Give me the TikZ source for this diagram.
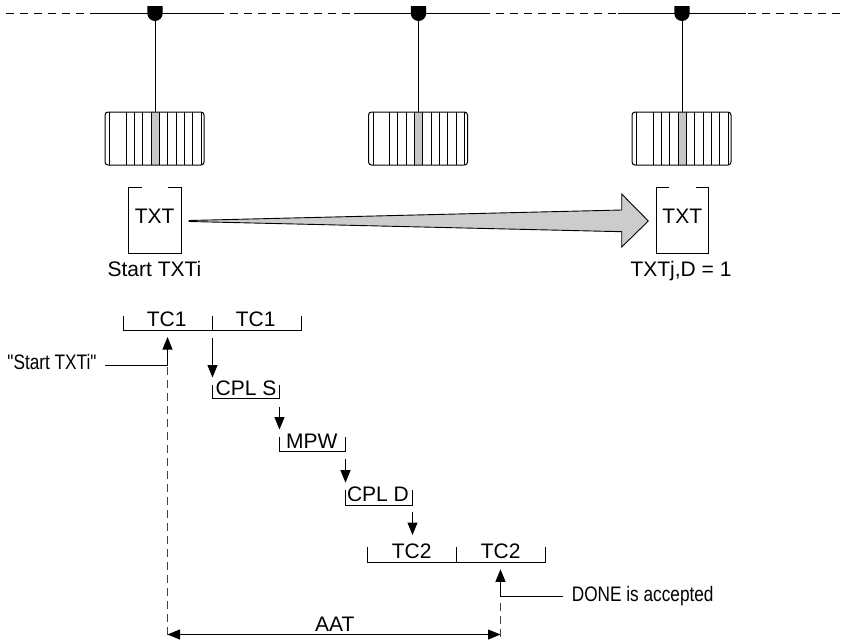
\documentclass[tikz,border=0pt]{standalone}
\usepackage{fontspec}
\usepackage{graphicx}
\setmainfont{Liberation Sans}
\newfontfamily\plainf{Liberation Sans}
\usetikzlibrary{arrows.meta}
\newcommand\narrowtxt[1]{\scalebox{.82}[1]{#1}}
\tikzset{
  ln/.style={draw=black,line width=1pt},
  lbl/.style={inner sep=0pt,anchor=base,font=\fontsize{21}{25}\selectfont},
  wheelbox/.style={draw=black,line width=1pt,rounded corners=3pt,minimum width=99pt,minimum height=53pt,inner sep=0pt},
  flow/.style={ln,-{Stealth[length=12.5pt,width=10pt,inset=0pt]}},
  guide/.style={draw=black!75,line width=1pt,dash pattern=on 8pt off 5pt},
  bigarrow/.style={draw=black,line width=0.9pt,fill=black!20},
}
\begin{document}
\begin{tikzpicture}[x=1pt,y=-1pt]
\useasboundingbox (0,0) rectangle (844,640);
% bus
\draw[line width=1pt,dash pattern=on 8pt off 6pt] (6,13.5) -- (842,13.5);
\draw[line width=1pt] (90,13.5) -- (218,13.5) (354,13.5) -- (482,13.5) (618,13.5) -- (746,13.5);
% taps, wheels
\foreach \i/\x in {1/155,2/418.5,3/682}{
  \coordinate (tap\i) at (\x,21);
  \fill[black] (\x-7.7,6) -- (\x+7.7,6) -- (\x+7.7,13.3) arc[start angle=0,end angle=-180,radius=7.7pt] -- cycle;
  \fill[black!22] (\x-4,112) rectangle (\x+4,165);
  \node[wheelbox] (wheel\i) at (\x-0.5,138.5) {};
  \draw[ln] (tap\i) -- (wheel\i.north -| tap\i);
  \foreach \d in {-45.5,-29,-20.7,-12.4,-4,4,12.7,21,29.3,37.7,46}
    \draw[line width=1pt] (\x+\d,112) -- (\x+\d,165);
}
% documents
\foreach \n/\l/\r in {a/128.5/181,b/656/708.5}{
  \draw[ln] (\l+13,187.5) -- (\l,187.5) -- (\l,253.5) -- (\r,253.5) -- (\r,187.5) -- (\r-13,187.5);
}
\node[lbl] (txta) at (154.7,223) {TXT};
\node[lbl] (txtb) at (682.3,223) {TXT};
\node[lbl] (starttxt) at (154.5,276.5) {Start TXTi};
\node[lbl] (txtj) at (681,276.5) {TXTj,D = 1};
% big arrow
\coordinate (tail) at (189,221);
\coordinate (tip) at (648.3,221);
\draw[bigarrow] (189,220.5) -- (621.7,210) -- (621.7,194) -- (tip) -- (621.7,247) -- (621.7,231.7) -- (189,221.5) -- cycle;
% TC1
\draw[ln] (123.5,316) -- (123.5,330.5) -- (301.5,330.5) -- (301.5,316);
\draw[ln] (212.5,316) -- (212.5,330.5);
\node[lbl] (tc1a) at (166.7,326.5) {TC1};
\node[lbl] (tc1b) at (255.7,326.5) {TC1};
% Start label
\node[lbl] (startq) at (52,369) {\narrowtxt{\plainf "Start TXTi"}};
\coordinate (sj) at (167.5,365);
\coordinate (stip) at (167.5,337);
\draw[ln] (105,365) -- (sj);
\draw[flow] (sj) -- (stip);
% CPL S
\coordinate (a1s) at (212.5,338); \coordinate (a1e) at (212.5,377.5);
\draw[flow] (a1s) -- (a1e);
\draw[ln] (212.5,385) -- (212.5,398.5) -- (279.5,398.5) -- (279.5,385);
\node[lbl] (cpls) at (246,395.7) {CPL S};
% MPW
\coordinate (a2s) at (279.5,406.7); \coordinate (a2e) at (279.5,429.5);
\draw[flow] (a2s) -- (a2e);
\draw[ln] (279.5,436.7) -- (279.5,451.5) -- (345.5,451.5) -- (345.5,436.7);
\node[lbl] (mpw) at (311.7,448.3) {MPW};
% CPL D
\coordinate (a3s) at (345.5,459.3); \coordinate (a3e) at (345.5,482.7);
\draw[flow] (a3s) -- (a3e);
\draw[ln] (345.5,490) -- (345.5,505.5) -- (412.5,505.5) -- (412.5,490);
\node[lbl] (cpld) at (378,501.5) {CPL D};
% to TC2
\coordinate (a4s) at (412.5,512); \coordinate (a4e) at (412.5,535);
\draw[flow] (a4s) -- (a4e);
% TC2
\draw[ln] (367.5,547.3) -- (367.5,562.5) -- (545.5,562.5) -- (545.5,547.3);
\draw[ln] (456.5,547.3) -- (456.5,562.5);
\node[lbl] (tc2a) at (411.7,558.5) {TC2};
\node[lbl] (tc2b) at (500.7,558.5) {TC2};
% DONE
\coordinate (dj) at (500.5,596.5);
\coordinate (dtip) at (500.5,569.3);
\draw[ln] (563,596.5) -- (dj);
\draw[flow] (dj) -- (dtip);
\node[lbl,anchor=base west] (done) at (571.7,601.7) {\narrowtxt{DONE is accepted}};
% guides
\draw[guide] (167.5,367) -- (167.5,637);
\draw[guide] (500.5,603) -- (500.5,637);
% AAT
\coordinate (al) at (167.5,634.5); \coordinate (ar) at (500.5,634.5);
\draw[ln,{Stealth[length=12.5pt,width=10pt,inset=0pt]}-{Stealth[length=12.5pt,width=10pt,inset=0pt]}] (al) -- (ar);
\node[lbl] (aat) at (334.7,631) {AAT};
\end{tikzpicture}
\end{document}
